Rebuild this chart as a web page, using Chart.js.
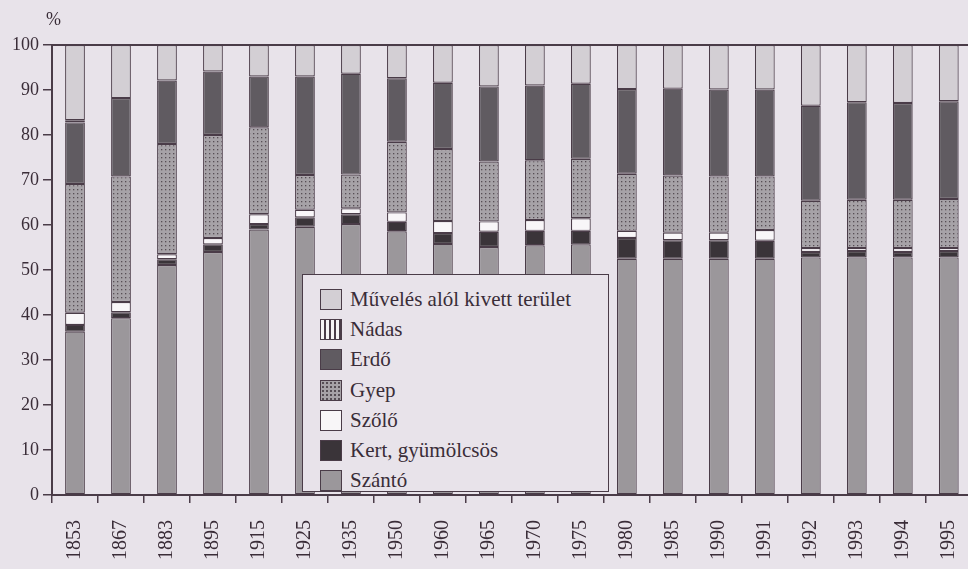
<!DOCTYPE html>
<html lang="hu">
<head>
<meta charset="utf-8">
<title>Földhasználat 1853-1995</title>
<script src="https://cdn.jsdelivr.net/npm/chart.js@4"></script>
<style>
    html, body { margin: 0; padding: 0; background: #e8e3ea; overflow: hidden; }
    #wrap { position: relative; width: 990px; height: 569px; }
    #pct { position: absolute; left: 46px; top: 9px; font: 18px "Liberation Serif", serif; color: #3a2d38; }
    #legend {
        position: absolute; left: 302px; top: 274px; width: 307px; height: 218px;
        box-sizing: border-box; border: 1.5px solid #4a3c48; background: #e8e3ea;
        padding: 9px 0 0 17px; font: 21px "Liberation Serif", serif; color: #3a2d38;
    }
    .item { height: 30.3px; display: flex; align-items: center; white-space: nowrap; }
    .sw { width: 22px; height: 21px; border: 1.5px solid #4a3c48; box-sizing: border-box; margin-right: 8px; flex: none; }
</style>
</head>
<body>
<div id="wrap">
    <canvas id="landChart"></canvas>
    <div id="pct">%</div>
    <div id="legend"></div>
</div>
<script>
// adatok (%)
const years = ['1853', '1867', '1883', '1895', '1915', '1925', '1935', '1950', '1960', '1965',
               '1970', '1975', '1980', '1985', '1990', '1991', '1992', '1993', '1994', '1995'];
const szanto  = [36.3, 39.3, 51.1, 54.0, 59.0, 59.6, 60.2, 58.6, 55.8, 55.1, 55.5, 55.7, 52.5, 52.5, 52.5, 52.5, 52.8, 52.8, 52.8, 52.8];
const kert    = [1.5, 1.3, 1.3, 1.7, 1.2, 2.1, 2.2, 2.1, 2.4, 3.4, 3.2, 3.0, 4.6, 4.1, 4.1, 4.0, 1.2, 1.4, 1.2, 1.4];
const szolo   = [2.7, 2.3, 1.1, 1.4, 2.2, 1.7, 1.3, 2.1, 2.7, 2.3, 2.4, 2.8, 1.6, 1.7, 1.7, 2.4, 0.9, 0.7, 0.9, 0.7];
const gyep    = [28.6, 27.9, 24.5, 22.9, 19.3, 7.7, 7.5, 15.7, 16.0, 13.3, 13.3, 13.2, 12.7, 12.7, 12.5, 11.9, 10.5, 10.7, 10.7, 10.9];
const erdo    = [13.7, 17.4, 14.1, 14.1, 11.3, 21.9, 22.4, 14.1, 14.7, 16.7, 16.6, 16.7, 18.8, 19.3, 19.3, 19.3, 21.1, 21.7, 21.5, 21.7];
const nadas   = [0.5, null, null, null, null, null, null, null, null, null, null, null, null, null, null, null, null, null, null, null];
const muveles = [16.7, 11.8, 7.9, 5.9, 7.0, 7.0, 6.4, 7.4, 8.4, 9.2, 9.0, 8.6, 9.8, 9.7, 9.9, 9.9, 13.5, 12.7, 12.9, 12.5];
const yTicks  = [0, 10, 20, 30, 40, 50, 60, 70, 80, 90, 100];

const INK = '#4a3c48';
const TEXT = '#3a2d38';
const FONT = '"Liberation Serif", "Times New Roman", serif';

// pontozott minta (gyep)
function dotPattern() {
    const c = document.createElement('canvas');
    c.width = 4; c.height = 4;
    const g = c.getContext('2d');
    g.fillStyle = '#a6a2a7';
    g.fillRect(0, 0, 4, 4);
    g.fillStyle = '#564e55';
    g.fillRect(1, 1, 1.3, 1.3);
    return g.createPattern(c, 'repeat');
}

// függőleges csíkos minta (nádas)
function stripePattern() {
    const c = document.createElement('canvas');
    c.width = 5; c.height = 5;
    const g = c.getContext('2d');
    g.fillStyle = '#f6f4f6';
    g.fillRect(0, 0, 5, 5);
    g.fillStyle = INK;
    g.fillRect(4, 0, 1.2, 5);
    return g.createPattern(c, 'repeat');
}

const series = [
    { label: 'Szántó', data: szanto, color: '#9b979b', css: 'background:#9b979b' },
    { label: 'Kert, gyümölcsös', data: kert, color: '#3a3439', css: 'background:#3a3439' },
    { label: 'Szőlő', data: szolo, color: '#f8f6f8', css: 'background:#f8f6f8' },
    { label: 'Gyep', data: gyep, color: dotPattern(),
      css: 'background-color:#a6a2a7;background-image:radial-gradient(circle,#564e55 0.9px,transparent 1.3px);background-size:4px 4px' },
    { label: 'Erdő', data: erdo, color: '#605b61', css: 'background:#605b61' },
    { label: 'Nádas', data: nadas, color: stripePattern(),
      css: 'background:repeating-linear-gradient(90deg,#f6f4f6 0 3.5px,#4a3c48 3.5px 5px)' },
    { label: 'Művelés alól kivett terület', data: muveles, color: '#d3cfd4', css: 'background:#d3cfd4' }
];

// felső keretvonal
const topLine = {
    id: 'topLine',
    afterDraw(chart) {
        const { ctx, chartArea } = chart;
        ctx.save();
        ctx.strokeStyle = INK;
        ctx.lineWidth = 2;
        ctx.beginPath();
        ctx.moveTo(chartArea.left, chartArea.top);
        ctx.lineTo(chart.width, chartArea.top);
        ctx.stroke();
        ctx.restore();
    }
};

const ctx = document.getElementById('landChart').getContext('2d');
const landChart = new Chart(ctx, {
    type: 'bar',
    data: {
        labels: years,
        datasets: series.map(s => ({
            label: s.label,
            data: s.data,
            backgroundColor: s.color,
            borderColor: INK,
            borderWidth: 1.2,
            borderSkipped: false,
            categoryPercentage: 1,
            barPercentage: 0.43
        }))
    },
    options: {
        responsive: true,
        maintainAspectRatio: false,
        animation: false,
        layout: { padding: { top: 45, right: 8, left: 0, bottom: 0 } },
        plugins: {
            legend: { display: false },
            tooltip: { enabled: false }
        },
        scales: {
            x: {
                stacked: true,
                grid: { offset: true, drawOnChartArea: false, tickLength: 8, color: INK, lineWidth: 1.5 },
                border: { color: INK, width: 2 },
                ticks: {
                    autoSkip: false, minRotation: 90, maxRotation: 90, padding: 17,
                    color: TEXT, font: { family: FONT, size: 20 }
                },
                afterFit: scale => { scale.height = 74; }
            },
            y: {
                stacked: true,
                min: 0,
                max: 100,
                afterBuildTicks: scale => { scale.ticks = yTicks.map(v => ({ value: v })); },
                grid: { drawOnChartArea: false, tickLength: 9, color: INK, lineWidth: 1.5 },
                border: { color: INK, width: 2 },
                ticks: { padding: 4, color: TEXT, font: { family: FONT, size: 18 } },
                afterFit: scale => { scale.width = 52; }
            }
        }
    },
    plugins: [topLine]
});

// jelmagyarázat (felülről lefelé)
const legend = document.getElementById('legend');
series.slice().reverse().forEach(s => {
    const row = document.createElement('div');
    row.className = 'item';
    row.innerHTML = `<span class="sw" style="${s.css}"></span><span>${s.label}</span>`;
    legend.appendChild(row);
});
</script>
</body>
</html>
